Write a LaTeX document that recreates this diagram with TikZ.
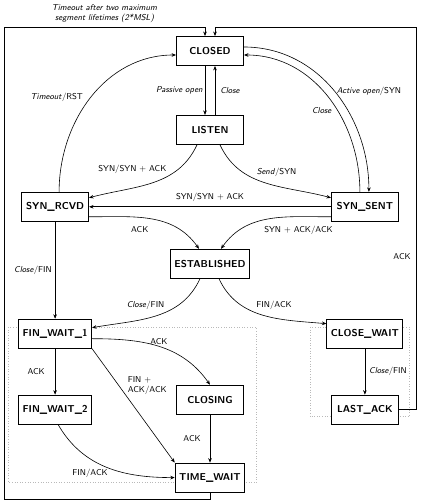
\documentclass[tikz,border=0pt]{standalone}
\usepackage{tikz}
\usetikzlibrary{arrows.meta,positioning,backgrounds}
\tikzset{
  tcpstate/.style={rectangle, draw=black, line width=0.9pt, fill=white,
                   minimum width=67pt, minimum height=29pt, inner xsep=4pt,
                   font=\sffamily\bfseries\fontsize{10}{12}\selectfont},
  lbl/.style     ={font=\sffamily\fontsize{8.5}{10}\selectfont, inner sep=2pt},
  tr/.style      ={-{Stealth[length=4.5pt,width=3.6pt]}, line width=0.6pt},
  grp/.style     ={draw=gray!55, dotted, line width=0.6pt}
}

\begin{document}
\begin{tikzpicture}[x=1pt, y=1pt]
\useasboundingbox (0,0) rectangle (420,500);
\node[tcpstate] (closed) at (210,449) {CLOSED};
\node[tcpstate, below=49pt of closed] (listen) {LISTEN};
\node[tcpstate, below left=47pt and 87pt of listen]  (synrcvd) {SYN\_RCVD};
\node[tcpstate, below right=47pt and 87pt of listen] (synsent) {SYN\_SENT};
\node[tcpstate, below=104pt of listen]  (estab)     {ESTABLISHED};
\node[tcpstate, below=97pt of synrcvd]  (finwait1)  {FIN\_WAIT\_1};
\node[tcpstate, below=97pt of synsent]  (closewait) {CLOSE\_WAIT};
\node[tcpstate, below=46pt of finwait1] (finwait2)  {FIN\_WAIT\_2};
\node[tcpstate, below=46pt of closewait](lastack)   {LAST\_ACK};
\node[tcpstate, below=106pt of estab]   (closing)   {CLOSING};
\node[tcpstate, below=48pt of closing]  (timewait)  {TIME\_WAIT};
\coordinate (mslcorner) at (4,473);
\coordinate (ackcorner) at (416,473);

\begin{scope}[on background layer]
\draw[grp] ([shift={(-9.5,-8.5)}]finwait1.north west) rectangle ([shift={(11,10)}]timewait.south east);
\draw[grp] ([shift={(-16.5,-8.5)}]closewait.north west) rectangle ([shift={(10.5,8)}]lastack.south east);
\end{scope}

\draw[tr] ([yshift=4pt]closed.east) to[out=0,in=90]
      node[lbl, pos=0.5, right] {\textit{Active open}/SYN} ([xshift=4pt]synsent.north);
\draw[tr] ([xshift=-5pt]synsent.north) to[out=90,in=0]
      node[lbl, pos=0.45, below left] {\textit{Close}} ([yshift=-4pt]closed.east);
\draw[tr] ([xshift=4pt]synrcvd.north) to[out=90,in=180]
      node[lbl, pos=0.5, left=6pt] {\textit{Timeout}/RST} ([yshift=-4pt]closed.west);
\draw[tr] ([xshift=-5pt]closed.south) -- node[lbl, left] {\textit{Passive open}} ([xshift=-5pt]listen.north);
\draw[tr] ([xshift=5pt]listen.north) -- node[lbl, right=3pt] {\textit{Close}} ([xshift=5pt]closed.south);
\draw[tr] ([xshift=-13pt]listen.south) to[out=-115,in=15]
      node[lbl, pos=0.35, above left] {SYN/SYN + ACK} ([yshift=9pt]synrcvd.east);
\draw[tr] ([xshift=10pt]listen.south) to[out=-65,in=165]
      node[lbl, pos=0.4, above right] {\textit{Send}/SYN} ([yshift=9pt]synsent.west);
\draw[tr] (synsent) -- node[lbl, above=3pt] {SYN/SYN + ACK} (synrcvd);
\draw[tr] ([yshift=-10pt]synrcvd.east) to[out=0,in=125]
      node[lbl, pos=0.4, below=7pt] {ACK} ([xshift=-11pt]estab.north);
\draw[tr] ([yshift=-10pt]synsent.west) to[out=180,in=55]
      node[lbl, pos=0.25, below=7pt] {SYN + ACK/ACK} ([xshift=11pt]estab.north);
\draw[tr] (synrcvd) -- node[lbl, left=1pt] {\textit{Close}/FIN} (finwait1);
\draw[tr] ([xshift=-10pt]estab.south) to[out=-115,in=10]
      node[lbl, pos=0.4, above left] {\textit{Close}/FIN} ([yshift=6pt]finwait1.east);
\draw[tr] ([xshift=9pt]estab.south) to[out=-65,in=175]
      node[lbl, pos=0.42, above right] {FIN/ACK} ([yshift=10pt]closewait.west);
\draw[tr] ([yshift=-5pt]finwait1.east) to[out=0,in=125]
      node[lbl, pos=0.5, above] {ACK} (closing.north);
\draw[tr] (finwait1.south east) -- node[lbl, pos=0.32, right=7pt, align=left] {FIN +\\ACK/ACK} (timewait.north west);
\draw[tr] (finwait1) -- node[lbl, left=8pt] {ACK} (finwait2);
\draw[tr] ([xshift=3pt]finwait2.south) to[out=-60,in=180]
      node[lbl, pos=0.35, below=8pt] {FIN/ACK} (timewait.west);
\draw[tr] (closing) -- node[lbl, left=7pt] {ACK} (timewait);
\draw[tr] (closewait) -- node[lbl, right=2pt] {\textit{Close}/FIN} (lastack);
\draw[tr] (timewait.south) -- ++(0,-6.5) -| (mslcorner) -| ([xshift=-5pt]closed.north)
      node[lbl, pos=0.25, above=2pt, align=center, font=\sffamily\itshape\fontsize{8.5}{10.5}\selectfont]
      {Timeout after two maximum\\segment lifetimes (2*MSL)};
\draw[tr] (lastack.east) -| node[lbl, pos=0.7, left=3pt] {ACK} (ackcorner) -| ([xshift=5pt]closed.north);
\end{tikzpicture}
\end{document}
